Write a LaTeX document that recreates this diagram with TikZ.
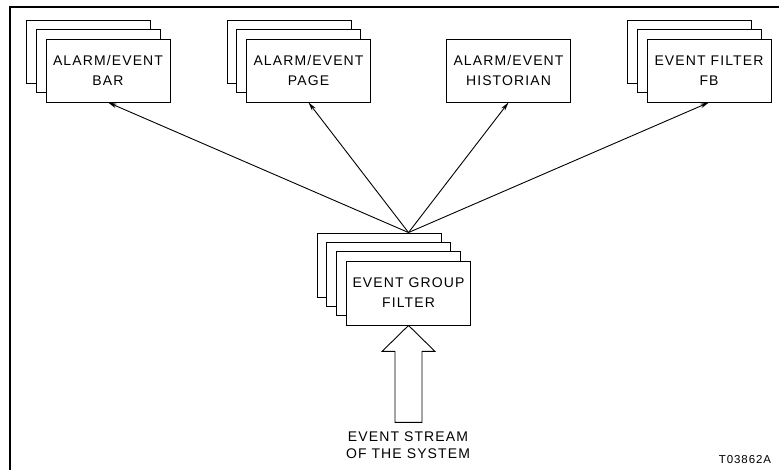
\documentclass[tikz,border=0pt]{standalone}
\usepackage{fontspec}
\setmainfont{Liberation Sans}[LetterSpace=8]
\usetikzlibrary{arrows.meta}

\begin{document}
\begin{tikzpicture}[x=1pt,y=1pt,line width=0.9pt,
    card/.style={draw,fill=white,minimum width=124pt,minimum height=63pt,
      inner sep=0pt,align=center,font=\fontsize{14}{20}\selectfont},
    flow/.style={-{Stealth[length=9pt,width=4.5pt]}},
    caption/.style={align=center,font=\fontsize{14}{17}\selectfont}]
  \useasboundingbox (0,0) rectangle (779,470);
  \draw[line width=1.3pt] (10,0) -- (10,463) -- (779,463);

  % output blocks
  \node[card] (bar3) at (88.5,418.5) {};
  \node[card] (bar2) at (98.2,409) {};
  \node[card] (bar) at (108,399.5) {ALARM/EVENT\\BAR};

  \node[card] (page3) at (289,418.5) {};
  \node[card] (page2) at (298.7,409) {};
  \node[card] (page) at (308.5,399.5) {ALARM/EVENT\\PAGE};

  \node[card] (hist) at (508.5,399.5) {ALARM/EVENT\\HISTORIAN};

  \node[card] (fb3) at (689.5,418.5) {};
  \node[card] (fb2) at (699.2,409) {};
  \node[card] (fb) at (709,399.5) {EVENT FILTER\\FB};

  % group filter
  \node[card,minimum height=64pt] (grp4) at (379,205) {};
  \node[card,minimum height=64pt] (grp3) at (388.8,195.7) {};
  \node[card,minimum height=64pt] (grp2) at (398.6,186.4) {};
  \node[card,minimum height=64pt] (grp) at (408.5,177) {EVENT GROUP\\FILTER};

  \coordinate (apex) at (grp |- grp4.north);
  \draw[flow] (apex) -- (bar.south);
  \draw[flow] (apex) -- (page.south);
  \draw[flow] (apex) -- (hist.south);
  \draw[flow] (apex) -- (fb.south);

  % event stream
  \draw (grp.south) -- ++(-26.5,-26) -- ++(13,0) -- ++(0,-71)
    -- ++(27,0) -- ++(0,71) -- ++(13,0) -- cycle;
  \node[caption] (stream) at (408,24.5) {EVENT STREAM\\OF THE SYSTEM};

  \node[font=\fontsize{11.5}{13}\selectfont] (tag) at (745,10.5) {T03862A};
\end{tikzpicture}
\end{document}
